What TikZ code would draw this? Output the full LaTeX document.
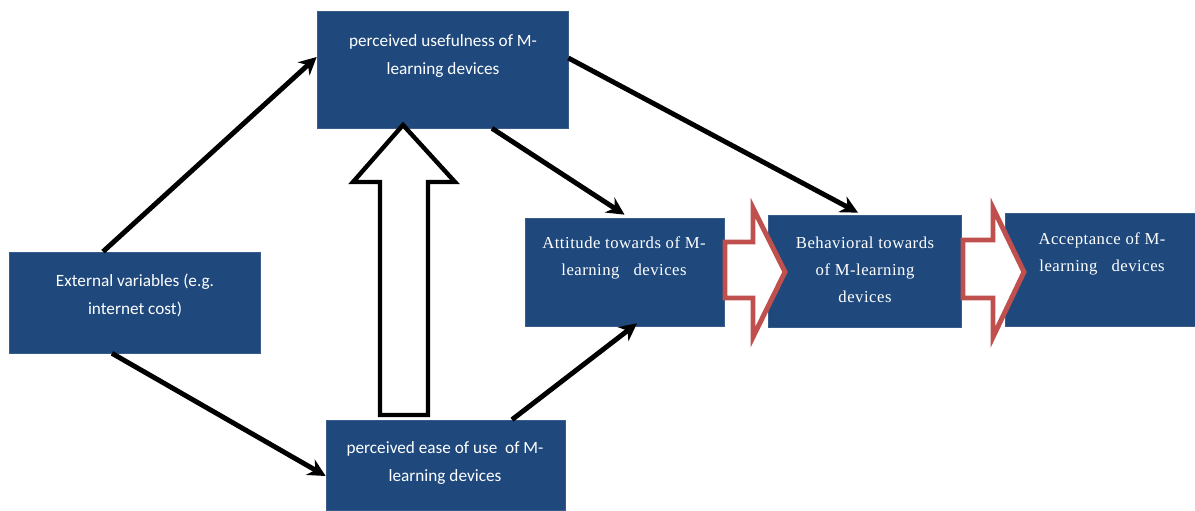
\documentclass[tikz,border=0pt]{standalone}
\usepackage{fontspec}
\newfontfamily\calfont{Carlito}
\newfontfamily\timesfont[LetterSpace=3]{Liberation Serif}
\usetikzlibrary{calc,arrows.meta}

\definecolor{boxblue}{HTML}{1F497D}
\definecolor{boxline}{HTML}{385D8A}
\definecolor{arrowred}{HTML}{C0504D}

\tikzset{
  box/.style={fill=boxblue,draw=boxline,line width=0.4pt,inner sep=0pt},
  sanstext/.style={text=white,align=center,font=\calfont\fontsize{9.8}{16}\selectfont},
  seriftext/.style={text=white,align=center,font=\timesfont\fontsize{9.5}{15.5}\selectfont},
  link/.style={line width=2.8pt,-{Stealth[length=10pt,width=10pt]}},
  hollowup/.style={fill=white,draw=black,line width=2.5pt,line join=miter},
  hollowred/.style={fill=white,draw=arrowred,line width=2.8pt,line join=miter}
}

\begin{document}
\begin{tikzpicture}[x=0.02cm,y=-0.02cm]
        \useasboundingbox (0,0) rectangle (1195,510);
        % boxes
        \node[box,minimum width=5.02cm,minimum height=2.34cm] (pu) at (442.5,69.5) {};
        \node[box,minimum width=5.02cm,minimum height=2.02cm] (ev) at (134.5,302.5) {};
        \node[box,minimum width=4.78cm,minimum height=1.8cm] (ease) at (445.5,465) {};
        \node[box,minimum width=3.98cm,minimum height=2.16cm] (att) at (624.5,272) {};
        \node[box,minimum width=3.86cm,minimum height=2.24cm] (behav) at (864.5,271) {};
        \node[box,minimum width=3.8cm,minimum height=2.26cm] (acc) at (1100,269.5) {};
        % texts
        \node[sanstext] (pu-txt) at (443,56) {perceived usefulness of M-\\learning devices};
        \node[sanstext] (ev-txt) at (135,295) {External variables (e.g.\\internet cost)};
        \node[sanstext] (ease-txt) at (445,463) {perceived ease of use\ \ of M-\\learning devices};
        \node[seriftext] (att-txt) at (624,258) {Attitude towards of M-\\learning\ \ \ devices};
        \node[seriftext] (behav-txt) at (865,270) {Behavioral towards\\of M-learning\\devices};
        \node[seriftext] (acc-txt) at (1102,254) {Acceptance of M-\\learning\ \ \ devices};
        % links
        \draw[link] ($(ev.north)+(-31.5,0)$) -- ($(pu.west)+(0,-12.5)$);
        \draw[link] ($(ev.south)+(-22.5,0)$) -- ($(ease.west)+(0,11)$);
        \draw[link] ($(pu.east)+(0,-11.5)$) -- ($(behav.north)+(-6.5,-2)$);
        \draw[link] ($(pu.south)+(49.5,0)$) -- ($(att.north)+(0,-3)$);
        \draw[link] ($(ease.north)+(66.5,0)$) -- ($(att.south)+(12.5,-3)$);
        % hollow arrows
        \draw[hollowup] (380,415) -- (380,182) -- (353,182) -- (403,125) -- (455,182) -- (428,182) -- (428,415) -- cycle;
        \draw[hollowred] (725,242) -- (753,242) -- (753,208) -- (785,272) -- (753,337) -- (753,298) -- (725,298) -- cycle;
        \draw[hollowred] (963,240) -- (993,240) -- (993,208) -- (1024,272) -- (993,337) -- (993,298) -- (963,298) -- cycle;
\end{tikzpicture}
\end{document}
